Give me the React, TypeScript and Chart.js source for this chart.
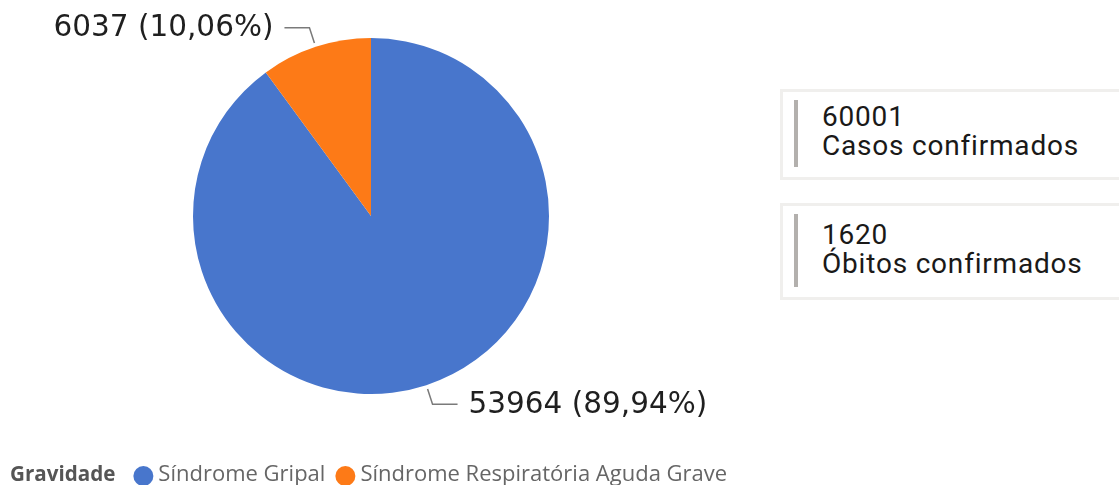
import React, { useEffect, useRef } from "react";
import { Chart, registerables } from "chart.js";

Chart.register(...registerables);

const categories = ["Síndrome Gripal", "Síndrome Respiratória Aguda Grave"];
const values = [53964, 6037];
const colors = ["#4876CC", "#FD7A17"];
const legendTitle = "Gravidade";
const cardValues = ["60001", "1620"];
const cardLabels = ["Casos confirmados", "Óbitos confirmados"];

const fmtPct = (v: number, total: number) =>
  ((v / total) * 100).toFixed(2).replace(".", ",") + "%";

const labelPlugin = {
  id: "pieLabels",
  afterDraw(chart: any) {
    const ctx = chart.ctx;
    const meta = chart.getDatasetMeta(0);
    const data = chart.data.datasets[0].data as number[];
    const total = data.reduce((a, b) => a + b, 0);
    ctx.save();
    meta.data.forEach((arc: any, i: number) => {
      const { x, y, startAngle, endAngle, outerRadius } = arc.getProps(
        ["x", "y", "startAngle", "endAngle", "outerRadius"],
        true
      );
      const mid = (startAngle + endAngle) / 2;
      const dx = Math.cos(mid);
      const dy = Math.sin(mid);
      const p0 = { x: x + (outerRadius + 4) * dx, y: y + (outerRadius + 4) * dy };
      const p1 = { x: x + (outerRadius + 20) * dx, y: y + (outerRadius + 20) * dy };
      const side = dx >= 0 ? 1 : -1;
      const p2 = { x: p1.x + side * 25, y: p1.y };
      ctx.strokeStyle = "#7a7a7a";
      ctx.lineWidth = 1.5;
      ctx.beginPath();
      ctx.moveTo(p0.x, p0.y);
      ctx.lineTo(p1.x, p1.y);
      ctx.lineTo(p2.x, p2.y);
      ctx.stroke();
      ctx.fillStyle = "#1f1f1f";
      ctx.font = '29.5px "DejaVu Sans"';
      ctx.textBaseline = "middle";
      ctx.textAlign = side > 0 ? "left" : "right";
      const txt = `${data[i]} (${fmtPct(data[i], total)})`;
      ctx.fillText(txt, p2.x + side * 11, p2.y + 1);
    });
    // legend
    const ly = 475;
    ctx.textBaseline = "middle";
    ctx.textAlign = "left";
    ctx.font = 'bold 20.6px "Open Sans"';
    ctx.fillStyle = "#555555";
    ctx.fillText(legendTitle, 10, ly);
    let lx = 10 + ctx.measureText(legendTitle).width + 18;
    ctx.font = '22px "Open Sans"';
    chart.data.labels.forEach((lab: string, i: number) => {
      ctx.fillStyle = colors[i];
      ctx.beginPath();
      ctx.arc(lx + 10, ly + 1, 10, 0, Math.PI * 2);
      ctx.fill();
      ctx.fillStyle = "#666666";
      ctx.fillText(lab, lx + 25, ly);
      lx += 25 + ctx.measureText(lab).width + 10;
    });
    ctx.restore();
  },
};

function Card({ top, height, value, label, textTop }: any) {
  return (
    <div
      style={{
        position: "absolute",
        left: 780,
        top,
        width: 360,
        height,
        border: "3px solid #f0efed",
        boxSizing: "border-box",
        background: "#fff",
      }}
    >
      <div
        style={{
          position: "absolute",
          left: 11,
          top: 8,
          width: 4,
          height: height - 24,
          background: "#b3b0ad",
        }}
      />
      <div
        style={{
          position: "absolute",
          left: 39,
          top: textTop,
          fontFamily: "Roboto",
          fontSize: 28,
          letterSpacing: "0.8px",
          lineHeight: "29px",
          color: "#1a1918",
          whiteSpace: "nowrap",
        }}
      >
        <div>{value}</div>
        <div>{label}</div>
      </div>
    </div>
  );
}

export default function App() {
  const ref = useRef<HTMLCanvasElement | null>(null);
  useEffect(() => {
    document.body.style.margin = "0";
    const chart = new Chart(ref.current as HTMLCanvasElement, {
      type: "pie",
      data: {
        labels: categories,
        datasets: [
          {
            data: values,
            backgroundColor: colors,
            borderWidth: 0,
          },
        ],
      },
      options: {
        animation: false,
        responsive: false,
        maintainAspectRatio: false,
        layout: { padding: { left: 193, right: 570, top: 38, bottom: 91 } },
        plugins: { legend: { display: false }, tooltip: { enabled: false } },
      },
      plugins: [labelPlugin],
    });
    return () => chart.destroy();
  }, []);
  return (
    <div style={{ position: "relative", width: 1119, height: 485, overflow: "hidden", background: "#fff" }}>
      <canvas ref={ref} width={1119} height={485} style={{ position: "absolute", left: 0, top: 0 }} />
      <Card top={89} height={91} value={cardValues[0]} label={cardLabels[0]} textTop={10} />
      <Card top={203} height={97} value={cardValues[1]} label={cardLabels[1]} textTop={14} />
    </div>
  );
}
